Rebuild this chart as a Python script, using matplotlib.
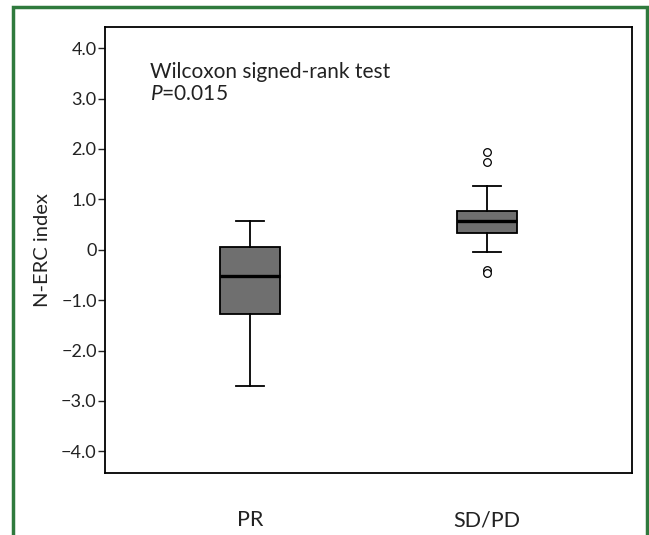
"""
Box plot - N-ERC index by response group (PR vs SD/PD)
"""
import matplotlib
matplotlib.use("Agg")
import matplotlib.pyplot as plt
from matplotlib.patches import Rectangle

groups = ["PR", "SD/PD"]
whisker_low = [-2.71, -0.05]
box_low = [-1.27, 0.34]
medians = [-0.53, 0.58]
box_high = [0.06, 0.76]
whisker_high = [0.58, 1.26]
outliers = [[], [1.94, 1.74, -0.40, -0.47]]

tick_values = [-4, -3, -2, -1, 0, 1, 2, 3, 4]
tick_labels = ["\u22124.0", "\u22123.0", "\u22122.0", "\u22121.0", "0",
               "1.0", "2.0", "3.0", "4.0"]

plt.rcParams["font.family"] = ["Lato", "DejaVu Sans"]
plt.rcParams["mathtext.fontset"] = "custom"
plt.rcParams["mathtext.rm"] = "Lato"
plt.rcParams["mathtext.it"] = "Lato:italic"


def plot():
    """Draw the box plot and save it"""
    fig = plt.figure(figsize=(6.49, 5.35), dpi=100)
    axis = fig.add_axes([0.1618, 0.1159, 0.812, 0.8336])

    stats = []
    for i, name in enumerate(groups):
        stats.append({
            "label": name,
            "whislo": whisker_low[i],
            "q1": box_low[i],
            "med": medians[i],
            "q3": box_high[i],
            "whishi": whisker_high[i],
            "fliers": outliers[i],
        })
    axis.bxp(
        stats,
        positions=[1, 2],
        widths=0.253,
        patch_artist=True,
        boxprops={"facecolor": "#6f6f6f", "edgecolor": "black",
                  "linewidth": 1.3},
        medianprops={"color": "black", "linewidth": 2.4},
        whiskerprops={"color": "black", "linewidth": 1.3},
        capprops={"color": "black", "linewidth": 1.3},
        capwidths=0.122,
        flierprops={"marker": "o", "markersize": 5.5,
                    "markerfacecolor": "white", "markeredgecolor": "black",
                    "markeredgewidth": 0.9},
    )

    axis.set_xlim(0.388, 2.612)
    axis.set_ylim(-4.43, 4.42)
    axis.set_yticks(tick_values, tick_labels)
    axis.tick_params(axis="y", direction="out", length=5, width=1,
                     labelsize=13, pad=1, colors="#222222")
    axis.tick_params(axis="x", length=0, labelsize=15.5, pad=27,
                     colors="#222222")
    for spine in axis.spines.values():
        spine.set_linewidth(1.3)

    axis.set_ylabel("N-ERC index", fontsize=14.5, labelpad=7,
                    color="#222222")
    axis.text(0.0854, 0.886, "Wilcoxon signed-rank test", fontsize=15,
              transform=axis.transAxes, va="baseline", color="#222222")
    axis.text(0.0854, 0.836, "$P$=0.015", fontsize=15,
              transform=axis.transAxes, va="baseline", color="#222222")

    # green frame round the whole picture (open at the bottom)
    frame = Rectangle((13 / 649, -0.05), 634 / 649, 1.05 - 7 / 535,
                      transform=fig.transFigure, fill=False,
                      edgecolor="#2f7a3d", linewidth=2.5, clip_on=False)
    fig.patches.append(frame)

    fig.savefig("out.png", dpi=100)


if __name__ == "__main__":
    plot()
